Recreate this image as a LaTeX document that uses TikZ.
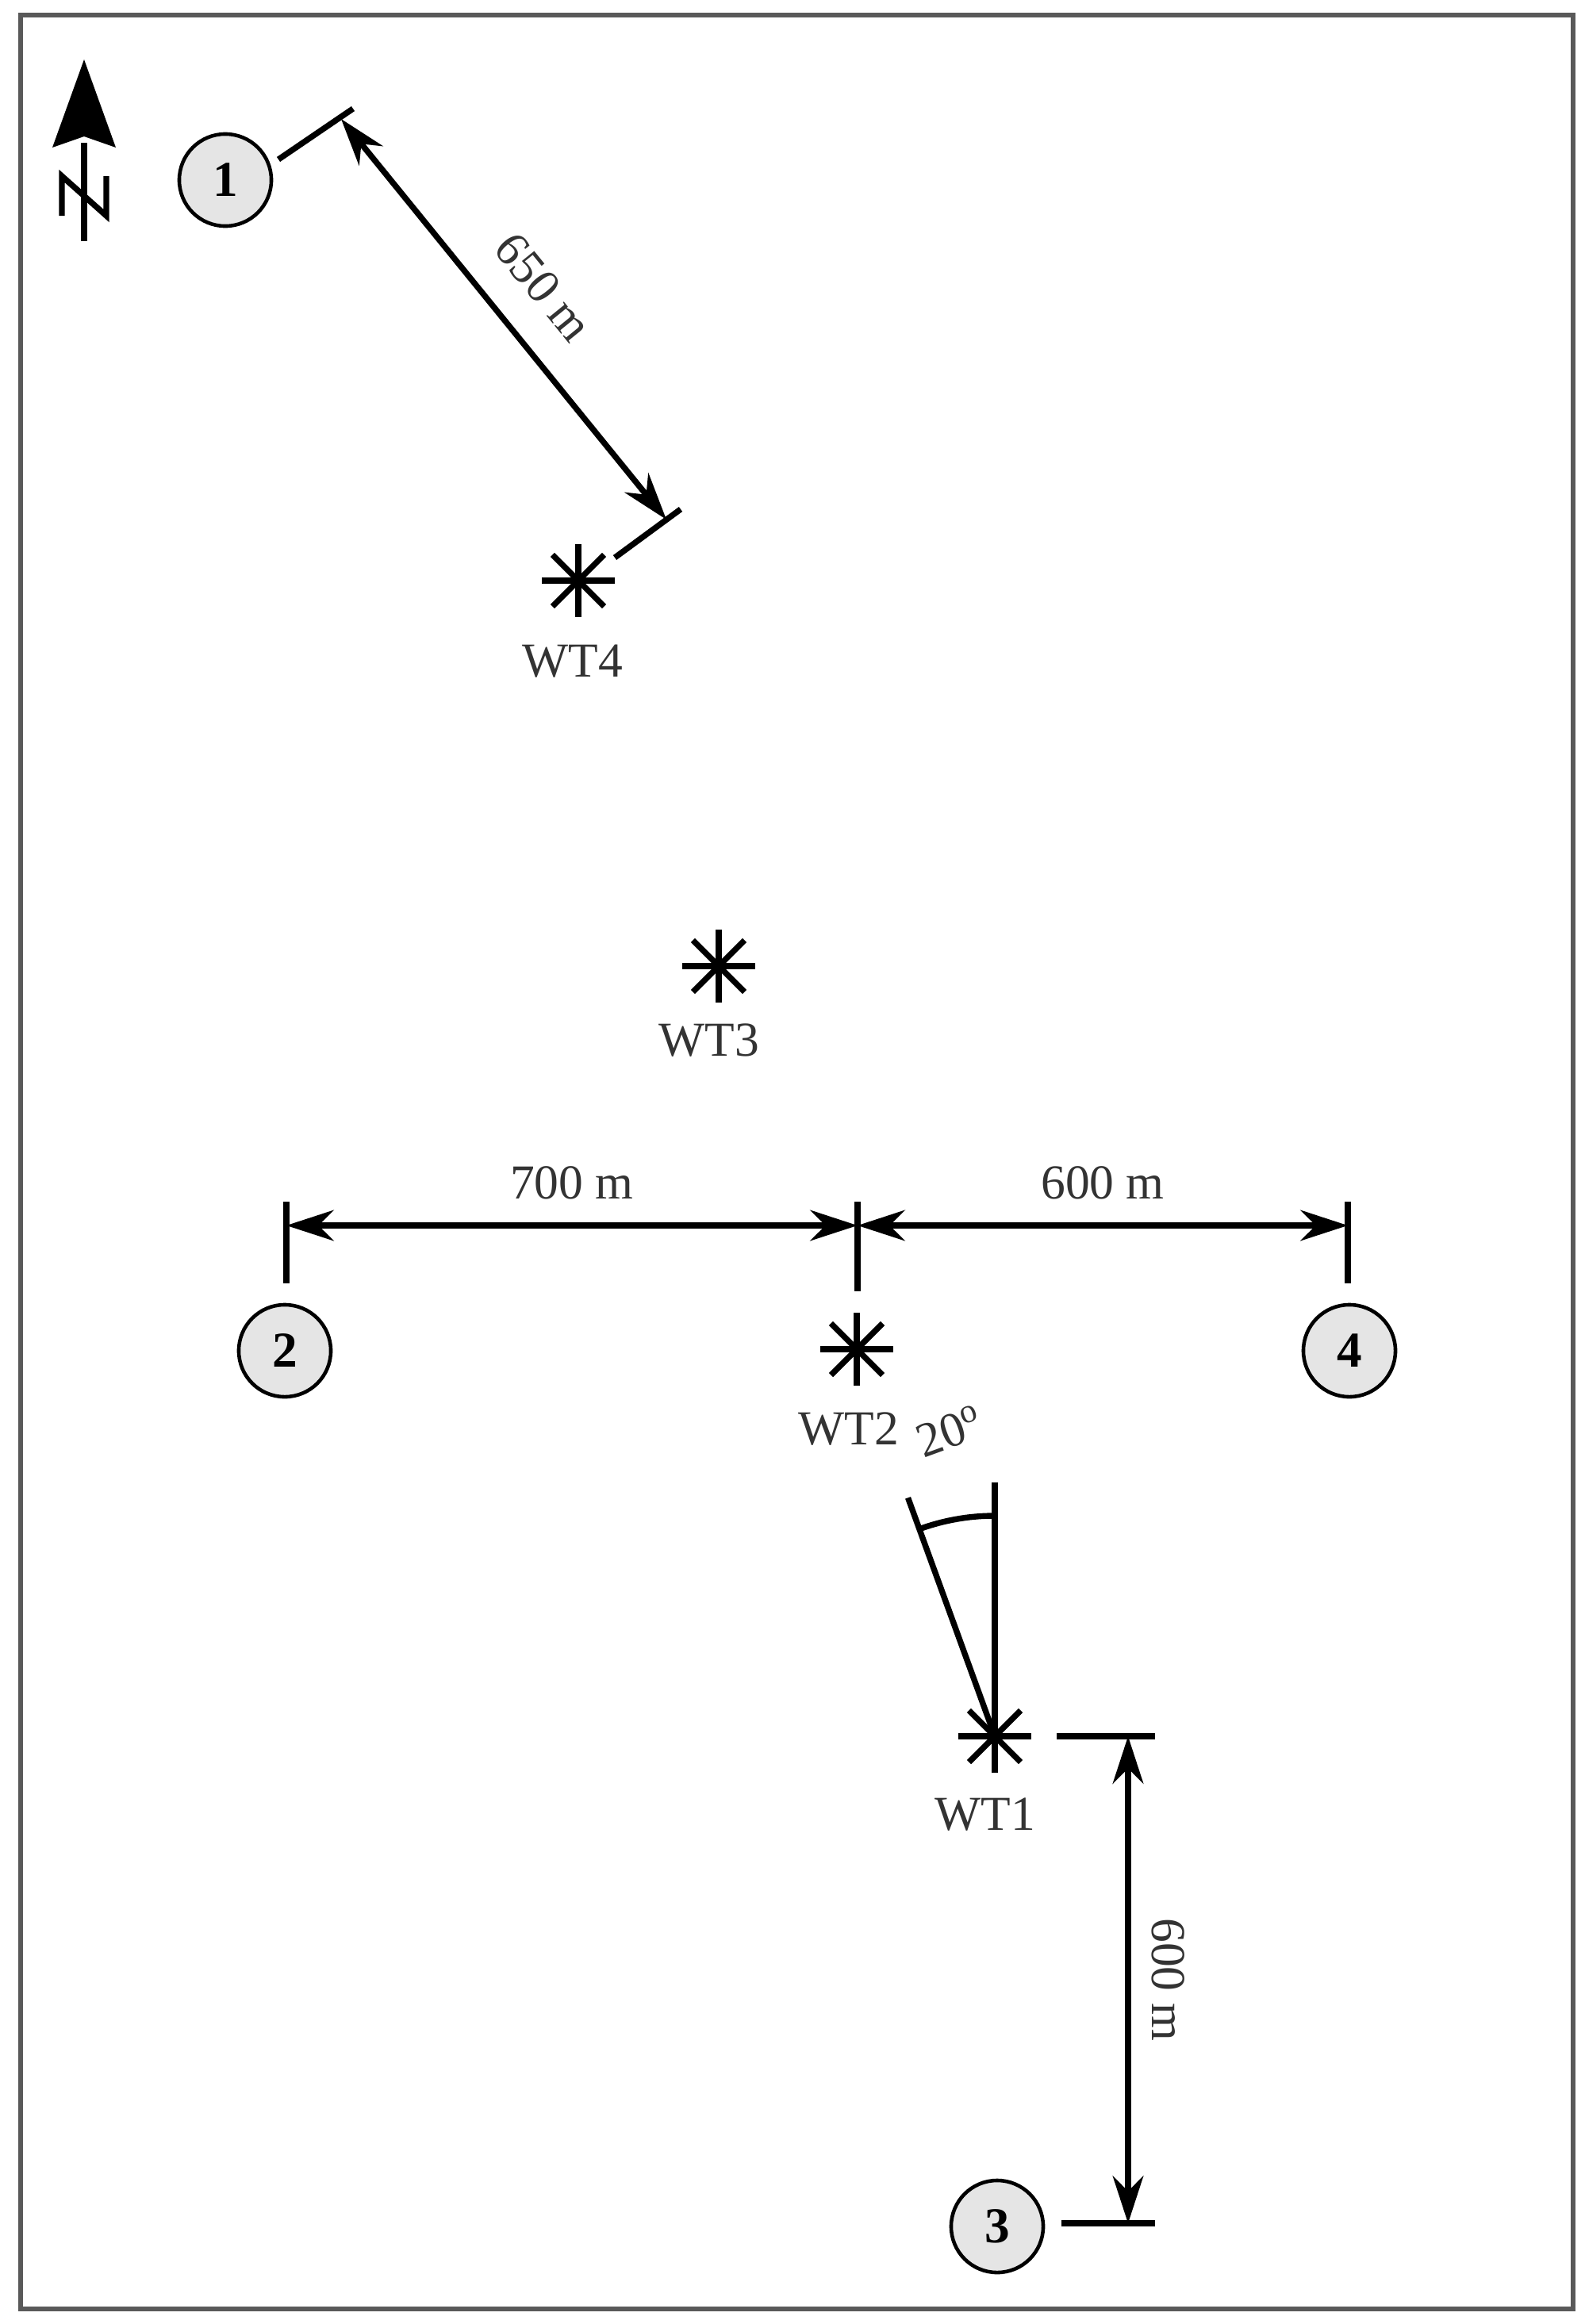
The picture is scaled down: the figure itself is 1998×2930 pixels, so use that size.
\documentclass[tikz,border=0pt]{standalone}
\usepackage{fontspec}
\setmainfont{Liberation Serif}
\usetikzlibrary{arrows.meta}
\begin{document}
\begin{tikzpicture}[x=0.01cm,y=-0.01cm,line width=2.1pt,
  site/.style={circle,draw,line width=1.3pt,fill=gray!20,minimum size=1.16cm,inner sep=0pt,font=\fontsize{18}{18}\selectfont\bfseries},
  lbl/.style={font=\fontsize{17.5}{17.5}\selectfont,text=black!80},
  dim/.style={{Stealth[length=17pt,width=11pt]}-{Stealth[length=17pt,width=11pt]}},
  star/.pic={\foreach \a in {0,45,...,315} \draw (0,0) -- (\a:0.46cm);}]
\useasboundingbox (0,0) rectangle (1998,2930);
\draw[line width=1.5pt,gray!70!black] (26,19) rectangle (1983,2911);
% north arrow
\coordinate (nb) at (106,304); \coordinate (nt) at (106,75);
\draw (nb) -- (106,180);
\fill (nt) -- (146,186) -- (106,172) -- (66,186) -- cycle;
\draw (78,272) -- (78,222) -- (134,272) -- (134,222);
% sites
\node[site] (s1) at (284,227) {1};
\node[site] (s2) at (359,1703) {2};
\node[site] (s4) at (1701,1703) {4};
\node[site] (s3) at (1257,2807) {3};
% turbines
\pic at (729,732) {star}; \coordinate (wt4) at (729,732);
\node[lbl] at (722,834) {WT4};
\pic at (906,1218) {star}; \node[lbl] at (894,1312) {WT3};
\pic at (1080,1701) {star}; \node[lbl] at (1070,1802) {WT2};
\pic at (1254,2189) {star}; \coordinate (wt1) at (1254,2189);
\node[lbl] at (1242,2288) {WT1};
% 650 m
\coordinate (a1) at (351,201); \coordinate (a2) at (445,137);
\coordinate (b1) at (775,703); \coordinate (b2) at (858,642);
\draw (a1) -- (a2); \draw (b1) -- (b2);
\draw[dim] (430,150) -- (840,655) node[midway,sloped,above=8pt,lbl] {650 m};
% horizontal dims
\coordinate (h1) at (361,1515); \coordinate (h2) at (1081,1515); \coordinate (h3) at (1699,1515);
\draw (h1) -- (361,1618); \draw (h2) -- (1081,1628); \draw (h3) -- (1699,1618);
\draw[dim] (361,1545) -- (1081,1545) node[midway,above=5pt,lbl] {700 m};
\draw[dim] (1081,1545) -- (1699,1545) node[midway,above=5pt,lbl] {600 m};
% angle
\draw (wt1) -- ++(270:320);
\draw (wt1) -- ++(250:320);
\draw (wt1) ++(270:278) arc (270:250:278);
\node[lbl,rotate=20] at (1197,1804) {20\textsuperscript{o}};
% 600 m vertical
\draw (1332,2189) -- (1456,2189);
\draw (1338,2803) -- (1456,2803);
\draw[dim] (1422,2189) -- (1422,2803) node[midway,right=4pt,rotate=-90,anchor=south,lbl] {600 m};
\end{tikzpicture}
\end{document}
